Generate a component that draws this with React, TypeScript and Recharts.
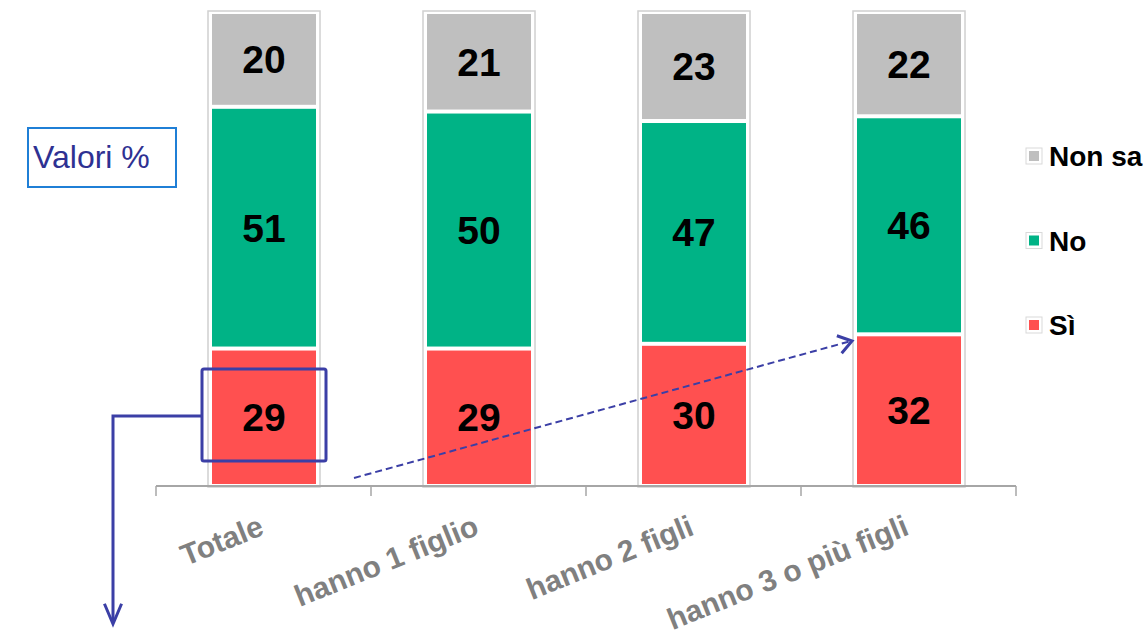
import React from "react"
import { Bar, BarChart, LabelList, XAxis, YAxis } from "recharts"

const categories = ["Totale", "hanno 1 figlio", "hanno 2 figli", "hanno 3 o più figli"]
const si = [29, 29, 30, 32]
const no = [51, 50, 47, 46]
const nonSa = [20, 21, 23, 22]

const series = [
  { key: "si", name: "Sì", color: "#ff5050" },
  { key: "no", name: "No", color: "#00b386" },
  { key: "nonSa", name: "Non sa", color: "#bfbfbf" },
]

const data = categories.map((name, i) => ({
  name,
  si: si[i],
  no: no[i],
  nonSa: nonSa[i],
}))

const FONT = '"Liberation Sans", Arial, sans-serif'
const NAVY = "#3b3fa6"
const AXIS = "#a6a6a6"

// each segment is inset a little so that white gaps show between them
const Segment = (props: any) => {
  const { x, y, width, height, fill } = props
  if (!height) return null
  return <rect x={x} y={y + 2} width={width} height={Math.max(height - 4, 0)} fill={fill} />
}

const Frame = (props: any) => {
  const { x, y, width, height } = props
  return (
    <rect
      x={x - 4}
      y={y - 1}
      width={width + 8}
      height={height + 2}
      fill="none"
      stroke="#d0d0d0"
      strokeWidth={1.5}
    />
  )
}

// label at the category centre, tick marks on the category boundaries
const CategoryTick = (props: any) => {
  const { x, y, payload, index, visibleTicksCount } = props
  const half = payload.offset || 0
  const ty = y + 48
  const isLast = index === visibleTicksCount - 1
  return (
    <g>
      <line x1={x - half} y1={y} x2={x - half} y2={y + 10} stroke={AXIS} strokeWidth={1.5} />
      {isLast && <line x1={x + half} y1={y} x2={x + half} y2={y + 10} stroke={AXIS} strokeWidth={1.5} />}
      <text
        x={x + 2}
        y={ty}
        transform={`rotate(-22, ${x + 2}, ${ty})`}
        textAnchor="end"
        fill="#808080"
        fontSize={30}
        fontWeight="bold"
        fontFamily={FONT}
      >
        {payload.value}
      </text>
    </g>
  )
}

function arrowHead(x1: number, y1: number, x2: number, y2: number, len: number, spread: number) {
  const a = Math.atan2(y2 - y1, x2 - x1)
  const p1 = [x2 - len * Math.cos(a - spread), y2 - len * Math.sin(a - spread)]
  const p2 = [x2 - len * Math.cos(a + spread), y2 - len * Math.sin(a + spread)]
  return `M${p1[0]},${p1[1]} L${x2},${y2} L${p2[0]},${p2[1]}`
}

export default function App() {
  const legendItems = [...series].reverse()
  return (
    <div style={{ position: "absolute", left: 0, top: 0, width: 1148, height: 643, background: "#fff" }}>
      <BarChart
        width={1148}
        height={643}
        data={data}
        margin={{ top: 12, right: 132, left: 156, bottom: 0 }}
      >
        <XAxis
          dataKey="name"
          axisLine={{ stroke: AXIS, strokeWidth: 2 }}
          tickLine={false}
          tickSize={0}
          tickMargin={0}
          height={157}
          interval={0}
          tick={<CategoryTick />}
        />
        <YAxis hide domain={[0, 100]} />
        {series.map((s, i) => (
          <Bar
            key={s.key}
            dataKey={s.key}
            name={s.name}
            stackId="a"
            fill={s.color}
            barSize={104}
            shape={<Segment />}
            background={i === 0 ? <Frame /> : undefined}
            isAnimationActive={false}
          >
            <LabelList
              dataKey={s.key}
              position="center"
              fill="#000"
              fontSize={39}
              fontWeight="bold"
              fontFamily={FONT}
            />
          </Bar>
        ))}
      </BarChart>

      <div
        style={{
          position: "absolute",
          left: 27,
          top: 127,
          width: 142,
          height: 57,
          border: "2px solid #1f7fd6",
          color: "#2e3192",
          fontFamily: FONT,
          fontSize: 32,
          display: "flex",
          alignItems: "center",
          paddingLeft: 4,
          boxSizing: "content-box",
        }}
      >
        Valori %
      </div>

      <svg
        width={1148}
        height={643}
        style={{ position: "absolute", left: 0, top: 0, pointerEvents: "none" }}
      >
        {legendItems.map((s, i) => {
          const cy = 156 + i * 84.5
          return (
            <g key={s.key}>
              <rect x={1026} y={cy - 8} width={16} height={16} fill="#fff" stroke="#d9d9d9" strokeWidth={1} />
              <rect x={1029} y={cy - 5} width={10} height={10} fill={s.color} />
              <text x={1049} y={cy + 10} fontSize={28} fontWeight="bold" fontFamily={FONT} fill="#000">
                {s.name}
              </text>
            </g>
          )
        })}

        <rect x={202} y={369} width={124} height={92} rx={2} fill="none" stroke={NAVY} strokeWidth={3} />
        <path d="M202,416 H113 V622" fill="none" stroke={NAVY} strokeWidth={3} />
        <path d={arrowHead(113, 416, 113, 624, 22, 0.4)} fill="none" stroke={NAVY} strokeWidth={3} />

        <path d="M354,478 L851,341" fill="none" stroke={NAVY} strokeWidth={2} strokeDasharray="7 4" />
        <path d={arrowHead(354, 478, 852, 341, 16, 0.6)} fill="none" stroke={NAVY} strokeWidth={3} />
      </svg>
    </div>
  )
}
